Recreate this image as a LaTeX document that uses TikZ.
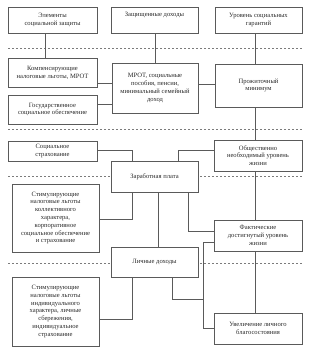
\documentclass[tikz,border=0pt]{standalone}
\usepackage{fontspec}
\setmainfont{Liberation Serif}
\definecolor{lineg}{HTML}{5A5A5A}
\definecolor{txtg}{HTML}{2A2A2A}
\begin{document}
\begin{tikzpicture}[x=1bp,y=-1bp,
  box/.style={draw=lineg, line width=0.8bp, fill=white, rectangle, inner sep=1bp,
     align=center, text=txtg, font=\fontsize{6.6}{7.8}\selectfont},
  conn/.style={draw=lineg, line width=0.8bp},
  sep/.style={draw=lineg!80, line width=0.6bp, dash pattern=on 2.2bp off 1.8bp}]
\useasboundingbox (0,0) rectangle (309,354);
\fill[white] (0,0) rectangle (309,354);
% dashed separators
\draw[sep] (8,48) -- (302,48);
\draw[sep] (8,129) -- (302,129);
\draw[sep] (8,176) -- (302,176);
\draw[sep] (8,263) -- (302,263);
% boxes
\node[box, minimum width=89bp, minimum height=26bp] (e1) at (52.5,20) {Элементы\\социальной защиты};
\node[box, minimum width=87bp, minimum height=26bp] (e2) at (154.5,20) {Защищенные доходы\\[3bp]};
\node[box, minimum width=87bp, minimum height=26bp] (e3) at (258.5,20) {Уровень социальных\\гарантий};
\node[box, minimum width=89bp, minimum height=29bp] (k) at (52.5,72.5) {Компенсирующие\\налоговые льготы, МРОТ};
\node[box, minimum width=89bp, minimum height=29bp] (g) at (52.5,109.5) {Государственное\\социальное обеспечение};
\node[box, minimum width=86bp, minimum height=50bp] (m) at (155,88) {МРОТ, социальные\\пособия, пенсии,\\минимальный семейный\\доход};
\node[box, minimum width=87bp, minimum height=43bp] (p) at (258.5,85.5) {Прожиточный\\минимум};
\node[box, minimum width=89bp, minimum height=20bp] (s) at (52.5,151) {Социальное\\страхование};
\node[box, minimum width=87bp, minimum height=31bp] (z) at (154.5,176.5) {Заработная плата};
\node[box, minimum width=88bp, minimum height=31bp] (o) at (258,155.5) {Общественно\\необходимый уровень\\жизни};
\node[box, minimum width=87bp, minimum height=68bp] (st1) at (55.5,218) {Стимулирующие\\налоговые льготы\\коллективного\\характера,\\корпоративное\\социальное обеспечение\\и страхование};
\node[box, minimum width=88bp, minimum height=31bp] (f) at (258,235.5) {Фактические\\достигнутый уровень\\жизни};
\node[box, minimum width=87bp, minimum height=30bp] (l) at (154.5,262) {Личные доходы};
\node[box, minimum width=87bp, minimum height=69bp] (st2) at (55.5,311.5) {Стимулирующие\\налоговые льготы\\индивидуального\\характера, личные\\сбережения,\\индивидуальное\\страхование};
\node[box, minimum width=88bp, minimum height=31bp] (u) at (258,328.5) {Увеличение личного\\благосостояния};
% connectors
\coordinate (j1) at (132,150);
\coordinate (j2) at (178,150);
\coordinate (j3) at (132,219);
\coordinate (j4) at (188,231);
\coordinate (j5) at (132,319);
\coordinate (j6) at (172,299);
\coordinate (j7) at (203,299);
\coordinate (j8) at (203,242);
\coordinate (j9) at (203,328);
\draw[conn] (e1.south -| 45,0) -- (k.north -| 45,0);
\draw[conn] (e2.south -| 155,0) -- (m.north -| 155,0);
\draw[conn] (e3.south -| 255,0) -- (p.north -| 255,0);
\draw[conn] (k.east |- 0,83) -- (m.west |- 0,83);
\draw[conn] (g.east |- 0,104) -- (m.west |- 0,104);
\draw[conn] (m.east |- 0,84) -- (p.west |- 0,84);
\draw[conn] (p.south -| 255,0) -- (o.north -| 255,0);
\draw[conn] (o.south -| 255,0) -- (f.north -| 255,0);
\draw[conn] (f.south -| 255,0) -- (u.north -| 255,0);
\draw[conn] (s.east |- j1) -- (j1) -- (z.north -| j1);
\draw[conn] (z.north -| j2) -- (j2) -- (o.west |- j2);
\draw[conn] (z.south -| j3) -- (j3) -- (st1.east |- j3);
\draw[conn] (z.south -| 158,0) -- (l.north -| 158,0);
\draw[conn] (z.south -| j4) -- (j4) -- (f.west |- j4);
\draw[conn] (l.south -| j5) -- (j5) -- (st2.east |- j5);
\draw[conn] (l.south -| j6) -- (j6) -- (j7);
\draw[conn] (f.west |- j8) -- (j8) -- (j9) -- (u.west |- j9);
\end{tikzpicture}
\end{document}
